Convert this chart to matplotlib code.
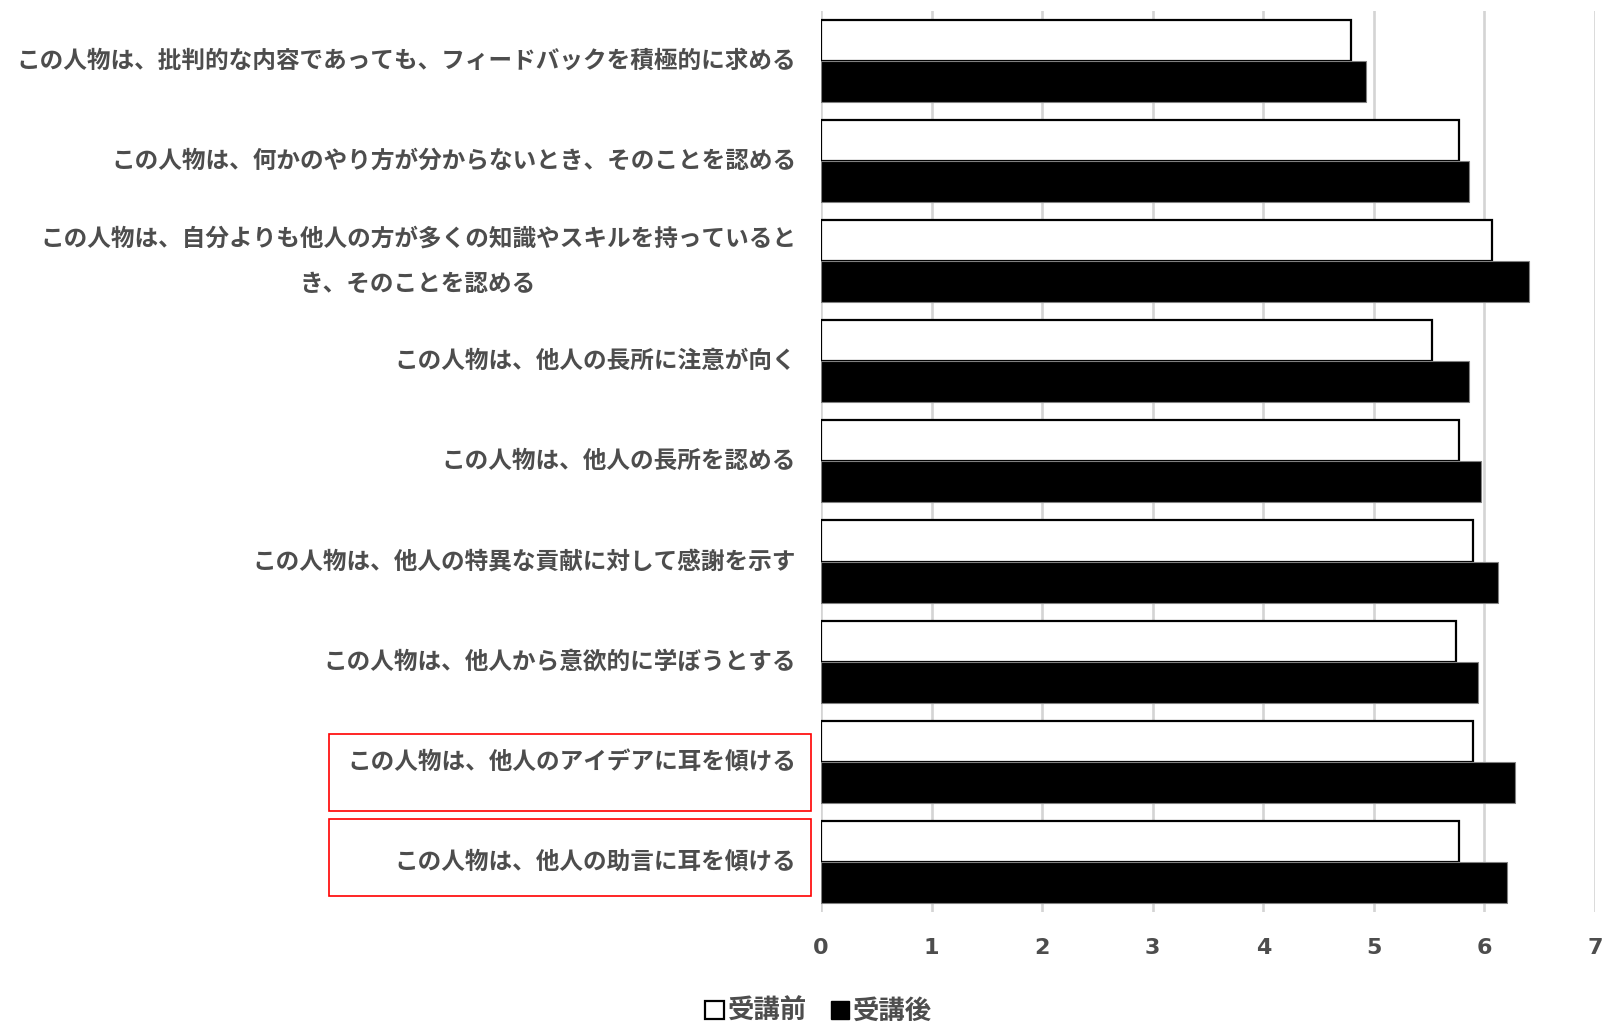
import matplotlib
matplotlib.use("Agg")
import matplotlib.pyplot as plt
import matplotlib.transforms as mtransforms
from matplotlib.patches import Rectangle, Patch
import numpy as np

plt.rcParams['font.family'] = ['Noto Sans CJK JP', 'DejaVu Sans']

labels = [
    "この人物は、批判的な内容であっても、フィードバックを積極的に求める",
    "この人物は、何かのやり方が分からないとき、そのことを認める",
    "この人物は、自分よりも他人の方が多くの知識やスキルを持っていると\nき、そのことを認める",
    "この人物は、他人の長所に注意が向く",
    "この人物は、他人の長所を認める",
    "この人物は、他人の特異な貢献に対して感謝を示す",
    "この人物は、他人から意欲的に学ぼうとする",
    "この人物は、他人のアイデアに耳を傾ける",
    "この人物は、他人の助言に耳を傾ける",
]
before = [4.79, 5.77, 6.07, 5.53, 5.77, 5.90, 5.74, 5.90, 5.77]
after = [4.93, 5.86, 6.40, 5.86, 5.97, 6.12, 5.94, 6.28, 6.20]
series_names = ["受講前", "受講後"]
xticks = [0, 1, 2, 3, 4, 5, 6, 7]

text_color = "#4d4d4d"
bar_h = 0.41

fig = plt.figure(figsize=(16.15, 10.24), dpi=100)
ax = fig.add_axes([0.5084, 0.1094, 0.4792, 0.88])

y = np.arange(len(labels))
ax.barh(y - bar_h / 2, before, height=bar_h, color="white",
        edgecolor="black", linewidth=1.6, zorder=3)
ax.barh(y + bar_h / 2, after, height=bar_h, color="black",
        edgecolor="#808080", linewidth=0.8, zorder=3)

ax.set_xlim(0, 7)
ax.set_ylim(len(labels) - 0.5, -0.5)
ax.set_xticks(xticks)
ax.set_xticklabels([str(t) for t in xticks], fontsize=16, fontweight="bold",
                   color=text_color, family="DejaVu Sans")
ax.set_yticks(y)
ax.set_yticklabels(labels, fontsize=17, fontweight="bold", color=text_color,
                   multialignment="center", linespacing=2.1, va="center")
ax.tick_params(axis="both", length=0)
ax.tick_params(axis="x", pad=19)
ax.tick_params(axis="y", pad=18)

ax.grid(axis="x", color="#d4d4d4", linewidth=1.9, zorder=0)
for s in ax.spines.values():
    s.set_visible(False)

# red highlight boxes around the last two item labels
trans = mtransforms.blended_transform_factory(fig.transFigure, ax.transData)
for y0, y1 in [(6.72, 7.49), (7.57, 8.34)]:
    ax.add_patch(Rectangle((0.204, y0), 0.298, y1 - y0, transform=trans,
                           fill=False, edgecolor="red", linewidth=1.2,
                           clip_on=False))

handles = [Patch(facecolor="white", edgecolor="black", linewidth=1.6),
           Patch(facecolor="black", edgecolor="black")]
fig.legend(handles, series_names, loc="center", bbox_to_anchor=(0.507, 0.012),
           ncol=2, frameon=False, handlelength=0.7, handleheight=0.7,
           handletextpad=0.15, columnspacing=0.9,
           prop={"size": 19, "weight": "bold"}, labelcolor=text_color)

fig.savefig("out.png", dpi=100)
